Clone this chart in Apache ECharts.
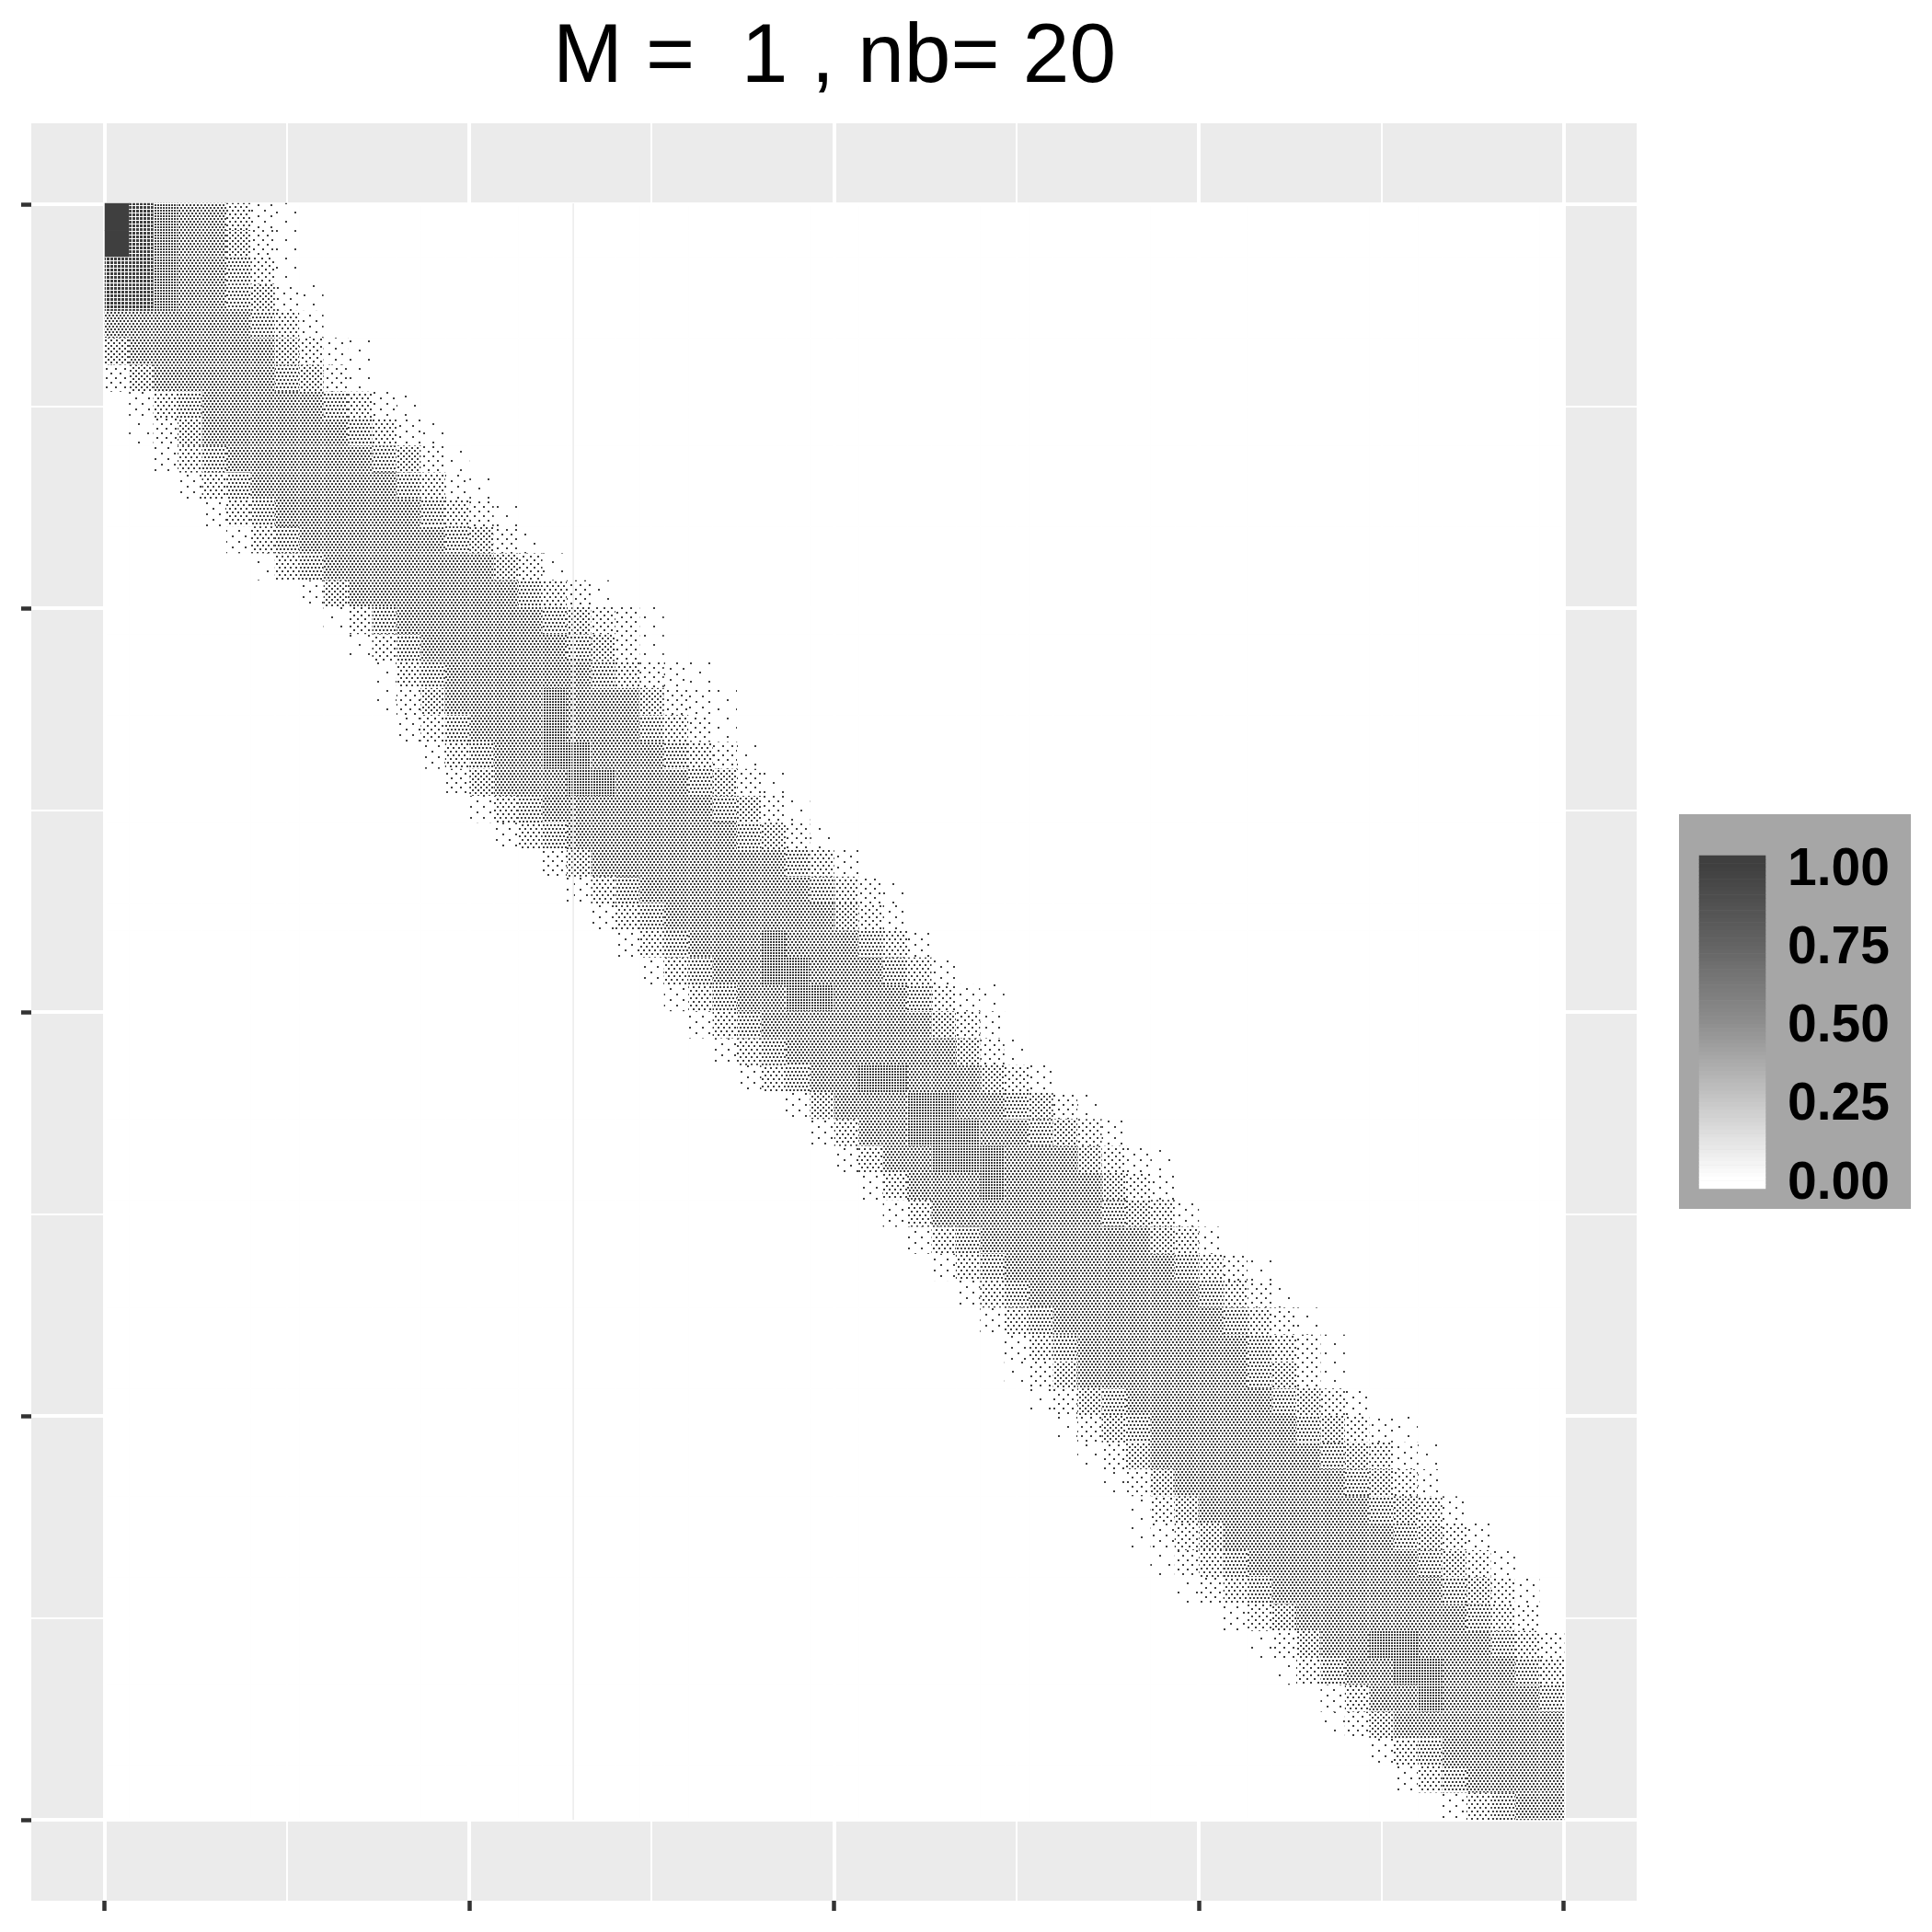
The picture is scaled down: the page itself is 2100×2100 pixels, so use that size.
<!DOCTYPE html>
<html>
<head>
<meta charset="utf-8">
<title>M = 1, nb = 20</title>
<style>
  html, body { margin: 0; padding: 0; background: #fff; }
  #chart { width: 2100px; height: 2100px; }
</style>
<script src="https://cdn.jsdelivr.net/npm/echarts@6/dist/echarts.min.js"></script>
</head>
<body>
<div id="chart"></div>
<script>
const titleText = 'M =  1 , nb= 20'
const matrixSize = 60
const legendShades = ['#ffffff', '#c6c6c6', '#8d8d8d', '#636363', '#3f3f3f']
const faintColumn = 0.321

// first coloured column of each row of the coarse matrix
const bandStart = [
  0, 0, 0, 0, 0, 0, 0, 1, 1, 2,
  3, 4, 5, 6, 8, 9, 10, 11, 11, 12,
  13, 14, 15, 16, 18, 19, 20, 21, 22, 23,
  24, 25, 26, 28, 29, 30, 31, 32, 33, 34,
  35, 36, 37, 37, 38, 39, 40, 41, 42, 42,
  43, 44, 46, 47, 48, 50, 50, 52, 53, 55
]

// share of dark cells in each coarse cell along the band, row by row
const bandValues = [
  [.96, .62, .5, .42, .3, .14, .04, .02],
  [.9, .6, .5, .42, .32, .2, .07, .02],
  [.72, .56, .48, .4, .33, .24, .1, .02],
  [.62, .54, .46, .38, .33, .27, .17, .05, .02],
  [.36, .42, .4, .36, .33, .3, .24, .12, .04],
  [.2, .32, .36, .36, .35, .32, .28, .2, .1, .04, .02],
  [.07, .2, .32, .34, .37, .33, .3, .26, .16, .08, .03],
  [.05, .14, .27, .34, .36, .36, .32, .3, .24, .14, .05, .03],
  [.03, .08, .2, .31, .34, .36, .36, .33, .3, .22, .12, .05, .02],
  [.04, .12, .24, .32, .35, .37, .36, .34, .3, .26, .16, .07, .02],
  [.05, .14, .26, .33, .35, .37, .36, .33, .3, .24, .13, .05, .02],
  [.04, .13, .26, .34, .36, .37, .35, .34, .3, .25, .15, .07, .03],
  [.05, .14, .27, .34, .36, .38, .36, .34, .32, .26, .16, .08, .03],
  [.03, .12, .25, .33, .36, .37, .37, .35, .33, .28, .2, .1, .03],
  [.05, .16, .28, .35, .37, .38, .36, .35, .3, .24, .14, .07, .03],
  [.03, .1, .22, .33, .36, .38, .39, .37, .33, .27, .18, .1, .06, .03],
  [.03, .1, .24, .34, .37, .39, .38, .36, .32, .26, .16, .08, .03],
  [.03, .12, .26, .35, .38, .4, .4, .37, .33, .26, .15, .07, .05, .02],
  [.03, .08, .17, .28, .36, .39, .42, .44, .4, .35, .28, .18, .08, .04, .02],
  [.04, .1, .22, .32, .38, .42, .46, .42, .38, .32, .24, .14, .06, .03],
  [.05, .14, .27, .36, .4, .44, .45, .42, .38, .33, .26, .14, .07, .03],
  [.06, .16, .28, .36, .42, .47, .46, .42, .38, .33, .27, .16, .08, .03],
  [.05, .14, .27, .36, .4, .42, .42, .4, .37, .33, .26, .16, .07, .03],
  [.04, .12, .26, .35, .38, .4, .4, .39, .37, .33, .27, .18, .08, .03],
  [.06, .16, .28, .34, .37, .38, .38, .37, .35, .3, .22, .12, .05],
  [.05, .14, .26, .34, .38, .39, .4, .38, .36, .31, .23, .14, .06, .02],
  [.04, .13, .25, .34, .38, .4, .41, .39, .36, .3, .2, .1, .04],
  [.04, .12, .25, .35, .39, .42, .43, .4, .36, .3, .22, .12, .05],
  [.04, .12, .26, .36, .41, .44, .45, .42, .37, .31, .24, .13, .05],
  [.04, .13, .27, .37, .41, .45, .44, .41, .37, .31, .22, .11, .05, .02],
  [.05, .14, .27, .36, .4, .42, .42, .4, .36, .3, .2, .1, .04],
  [.04, .12, .26, .36, .4, .42, .42, .4, .35, .28, .18, .08, .03],
  [.04, .12, .26, .36, .41, .43, .43, .4, .35, .28, .2, .1, .05],
  [.05, .16, .3, .38, .42, .44, .43, .39, .34, .27, .16, .08, .03],
  [.05, .15, .3, .39, .44, .46, .44, .4, .34, .27, .17, .09, .04],
  [.05, .15, .3, .4, .45, .46, .44, .4, .35, .28, .18, .1, .05, .02],
  [.05, .15, .29, .38, .42, .43, .41, .38, .34, .28, .2, .11, .05],
  [.05, .15, .28, .36, .4, .41, .4, .37, .33, .27, .2, .12, .05],
  [.05, .14, .27, .35, .38, .4, .39, .37, .33, .28, .21, .12, .05],
  [.05, .13, .26, .34, .38, .39, .39, .37, .34, .29, .22, .13, .06, .02],
  [.05, .13, .25, .33, .36, .38, .38, .37, .34, .3, .24, .15, .07, .03],
  [.05, .13, .25, .32, .36, .38, .38, .37, .35, .31, .25, .15, .07, .03],
  [.05, .12, .24, .32, .36, .39, .39, .38, .36, .31, .24, .13, .06, .02],
  [.03, .08, .18, .28, .34, .38, .39, .38, .36, .32, .26, .16, .08, .03],
  [.03, .08, .16, .27, .33, .36, .37, .36, .34, .31, .27, .18, .09, .04],
  [.03, .08, .17, .27, .33, .36, .37, .36, .34, .31, .27, .2, .1, .05, .02],
  [.03, .08, .18, .28, .33, .35, .36, .36, .34, .31, .27, .2, .12, .05, .02],
  [.03, .08, .18, .28, .34, .36, .37, .36, .34, .31, .26, .18, .1, .05],
  [.03, .09, .2, .29, .34, .36, .37, .36, .34, .3, .26, .2, .12, .05],
  [.02, .05, .1, .2, .3, .35, .37, .38, .37, .35, .31, .26, .2, .1, .04],
  [.03, .06, .12, .22, .31, .35, .38, .38, .37, .34, .31, .26, .19, .1, .05],
  [.03, .07, .14, .24, .32, .36, .39, .4, .38, .35, .31, .25, .18, .1, .04],
  [.04, .1, .2, .3, .37, .41, .42, .4, .36, .32, .26, .14, .06],
  [.03, .08, .2, .3, .38, .43, .44, .42, .37, .32, .25, .14, .06],
  [.03, .1, .22, .33, .42, .47, .44, .4, .35, .3, .22, .12],
  [.05, .15, .3, .42, .46, .42, .38, .34, .3, .25],
  [.03, .08, .18, .3, .38, .4, .38, .36, .33, .3],
  [.04, .12, .26, .34, .37, .36, .34, .33],
  [.05, .14, .26, .32, .35, .35, .35],
  [.05, .14, .26, .33, .36]
]

// dot rows for each density step: [lowest share, repeat across, gap down], offset every other row
const dotSteps = [
  [.28, 4, 1], [.22, 4, 2], [.16, 6, 1], [.12, 6, 2],
  [.09, 8, 2], [.06, 10, 3], [.035, 14, 4], [.005, 20, 8]
]

// colourbar steps: 0.0125 wide, running just past both ends of the scale
const legendSteps = []
for (let i = 0; i < 85; i++) {
  legendSteps.push((1.025 - i * 0.0125).toFixed(4))
}

const heatCols = []
for (let i = 0; i < matrixSize; i++) heatCols.push(String(i))

// panel lines sit on a 44 step ruler, 2 steps of it are the 5% margin
const panelSteps = []
for (let i = 0; i <= 44; i++) panelSteps.push(String(i))

const dotStyles = dotSteps.map((s) => ({
  color: '#ffffff',
  decal: {
    symbol: 'rect', symbolSize: 1, color: '#3f3f3f', rotation: 0,
    dashArrayX: [[2, s[1] - 2], [0, s[1] / 2, 2, s[1] / 2 - 2]],
    dashArrayY: [2, s[2]]
  }
}))
const plainDots = (size) => ({
  color: '#ffffff',
  decal: {
    symbol: 'rect', symbolSize: 1, color: '#3f3f3f', rotation: 0,
    dashArrayX: [size, 1], dashArrayY: [size, 1]
  }
})
const denseDots = plainDots(3)
const closeDots = plainDots(2)

function cellStyle(v) {
  if (v >= 0.85) return { color: '#3f3f3f' }
  if (v >= 0.52) return denseDots
  if (v >= 0.43) return closeDots
  const k = dotSteps.findIndex((s) => v >= s[0])
  return k < 0 ? { color: '#ffffff' } : dotStyles[k]
}

function buildMatrix() {
  const cells = []
  for (let r = 0; r < matrixSize; r++) {
    for (let c = 0; c < matrixSize; c++) {
      const k = c - bandStart[r]
      const v = k >= 0 && k < bandValues[r].length ? bandValues[r][k] : 0
      cells.push({ value: [c, r, v], itemStyle: cellStyle(v) })
    }
  }
  return cells
}

function buildLegendBar() {
  return legendSteps.map((s, i) => [0, i, Math.max(0, Math.min(1, Number(s)))])
}

const isMajor = (i) => (i - 2) % 10 === 0
const isMinor = (i) => (i - 2) % 10 === 5
const isLegendTick = (i) => (i - 2) % 20 === 0

function panelX(gridIndex, interval, width, withTick) {
  return {
    type: 'category', gridIndex: gridIndex, data: panelSteps, boundaryGap: false,
    axisLine: { show: false },
    axisLabel: { show: false },
    axisTick: withTick
      ? { show: true, interval: isMajor, length: 11, lineStyle: { color: '#333333', width: 4.5 } }
      : { show: false },
    splitLine: { show: true, interval: interval, lineStyle: { color: '#ffffff', width: width } }
  }
}

const hiddenCat = (data, gridIndex, inverse) => ({
  type: 'category', gridIndex: gridIndex, data: data, show: false, inverse: !!inverse
})

const chart = echarts.init(document.getElementById('chart'), null, { renderer: 'canvas' })
chart.setOption({
  animation: false,
  backgroundColor: '#ffffff',
  textStyle: { fontFamily: 'Liberation Sans' },
  title: {
    text: titleText, left: 902, top: 13, textAlign: 'center',
    textStyle: { fontFamily: 'Liberation Sans', fontSize: 91, fontWeight: 'normal', color: '#000000' }
  },
  graphic: [{
    type: 'rect', z: 0,
    shape: { x: 1825, y: 885, width: 252, height: 429 },
    style: { fill: '#a6a6a6' }
  }],
  grid: [
    { left: 34, top: 134, width: 1745, height: 1932, show: true, backgroundColor: '#ebebeb', borderWidth: 0 },
    { left: 114, top: 221, width: 1586, height: 1757 },
    { left: 114, top: 221, width: 1586, height: 1757 },
    { left: 1847, top: 930, width: 72, height: 362 }
  ],
  xAxis: [
    panelX(0, isMajor, 4, true),
    panelX(0, isMinor, 2, false),
    hiddenCat(heatCols, 1),
    { type: 'value', gridIndex: 2, min: 0, max: 1, show: false },
    hiddenCat(['bar'], 3)
  ],
  yAxis: [
    Object.assign(panelX(0, isMajor, 4, true), { position: 'left' }),
    Object.assign(panelX(0, isMinor, 2, false), { position: 'left' }),
    hiddenCat(heatCols, 1, true),
    { type: 'value', gridIndex: 2, min: 0, max: 1, show: false },
    {
      type: 'category', gridIndex: 3, data: legendSteps, inverse: true, position: 'right',
      axisLine: { show: false },
      axisTick: {
        show: true, inside: true, interval: isLegendTick, alignWithLabel: true, length: 14,
        lineStyle: { color: '#ffffff', width: 1.5 }
      },
      axisLabel: {
        show: true, interval: isLegendTick, margin: 24, color: '#000000',
        verticalAlign: 'top', lineHeight: 11,
        fontFamily: 'Liberation Sans', fontWeight: 'bold', fontSize: 57,
        formatter: (v) => Number(v).toFixed(2)
      }
    },
    {
      type: 'category', gridIndex: 3, data: legendSteps, inverse: true, position: 'left',
      axisLine: { show: false },
      axisLabel: { show: false },
      axisTick: {
        show: true, inside: true, interval: isLegendTick, alignWithLabel: true, length: 14,
        lineStyle: { color: '#ffffff', width: 1.5 }
      }
    }
  ],
  visualMap: {
    type: 'continuous', show: false, min: 0, max: 1, dimension: 2, seriesIndex: [1],
    inRange: { color: legendShades }
  },
  series: [
    {
      type: 'heatmap', xAxisIndex: 2, yAxisIndex: 2, data: buildMatrix(),
      progressive: 0, silent: true, emphasis: { disabled: true }
    },
    {
      type: 'heatmap', xAxisIndex: 4, yAxisIndex: 4, data: buildLegendBar(),
      progressive: 0, silent: true, emphasis: { disabled: true }, z: 1
    },
    {
      type: 'line', xAxisIndex: 3, yAxisIndex: 3, z: 3, silent: true, showSymbol: false,
      data: [[faintColumn, 0], [faintColumn, 1]],
      lineStyle: { color: '#ebebeb', width: 1.5 }
    }
  ]
})
</script>
</body>
</html>
